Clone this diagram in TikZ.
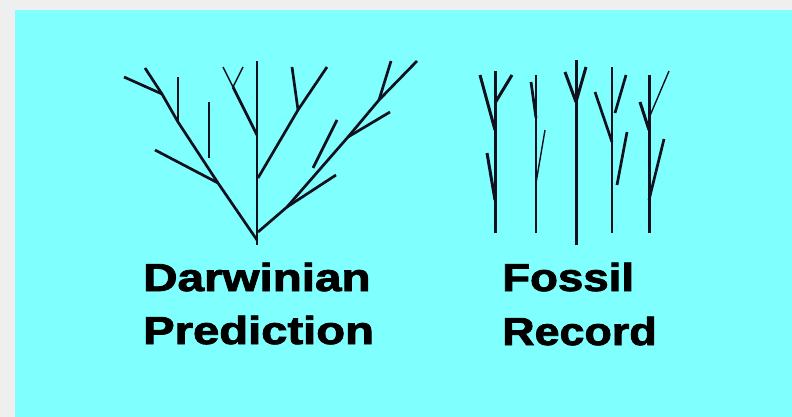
\documentclass[tikz,border=0pt]{standalone}
\usepackage{fontspec}
\setmainfont[BoldFeatures={FakeBold=2}]{Liberation Sans}
\definecolor{sky}{HTML}{80FFFF}
\definecolor{frame}{HTML}{EFEFEF}
\definecolor{twig}{HTML}{10101E}
\newcommand{\wideword}[2]{\scalebox{#1}[1]{#2}}

\begin{document}
\begin{tikzpicture}[
        x=1pt, y=-1pt,
        branch/.style={draw=twig, line width=2.7pt},
        stem/.style={draw=twig, line width=3pt},
        sprig/.style={draw=twig, line width=1.4pt},
        caption/.style={anchor=base west, inner sep=0pt, text=black, font=\fontsize{39}{39}\selectfont\bfseries},
    ]
    % background
    \fill[frame] (0,0) rectangle (792,417);
    \fill[sky] (15,10) rectangle (792,417);
    \useasboundingbox (0,0) rectangle (792,417);

    % Darwinian prediction: one branching tree
    \coordinate (root) at (257,240);
    \draw[branch] (257,245) -- (257,61);
    \coordinate (lowL) at (218,183);
    \coordinate (midL) at (178,122);
    \coordinate (topL) at (162,94);
    \draw[branch] (root) -- (lowL) -- (midL) -- (topL) -- (145,68);
    \draw[branch] (lowL) -- (155,150);
    \draw[branch] (topL) -- (124,77);
    \draw[branch] (midL) -- (178,77);
    \draw[branch] (209,102) -- (209,158);
    \coordinate (forkC) at (257,135);
    \coordinate (vC) at (233,87);
    \draw[branch] (forkC) -- (vC);
    \draw[sprig] (vC) -- (223,67);
    \draw[sprig] (vC) -- (243,67);
    \coordinate (forkR) at (258,178);
    \coordinate (subR) at (298,110);
    \draw[branch] (forkR) -- (subR) -- (327,67);
    \draw[branch] (subR) -- (292,67);
    \coordinate (lowR) at (287,207);
    \coordinate (midR) at (348,137);
    \coordinate (topR) at (379,100);
    \draw[branch] (258,232) -- (lowR) -- (midR) -- (topR) -- (417,61);
    \draw[branch] (lowR) -- (336,175);
    \draw[branch] (313,168) -- (337,120);
    \draw[branch] (midR) -- (390,112);
    \draw[branch] (topR) -- (391,61);

    % Fossil record: separate stems
    \draw[stem] (495,233) -- (495,71);
    \draw[stem] (495,130) -- (480,75);
    \draw[stem] (495,103) -- (512,75);
    \draw[stem] (495,200) -- (487,153);
    \draw[sprig] (536,233) -- (536,75);
    \draw[branch] (536,118) -- (531,82);
    \draw[sprig] (536,183) -- (545,130);
    \draw[stem] (576,245) -- (576,60);
    \draw[stem] (576,102) -- (565,72);
    \draw[stem] (576,102) -- (586,67);
    \draw[sprig] (612,233) -- (612,67);
    \draw[branch] (612,142) -- (595,92);
    \draw[branch] (615,113) -- (626,75);
    \draw[branch] (617,185) -- (627,132);
    \draw[stem] (649,233) -- (649,75);
    \draw[stem] (649,130) -- (640,102);
    \draw[sprig] (649,118) -- (669,71);
    \draw[branch] (649,200) -- (664,139);

    % captions
    \node[caption] (darwin) at (143,291) {\wideword{1.22}{Darwinian}};
    \node[caption] (predict) at (143,344) {\wideword{1.21}{Prediction}};
    \node[caption] (fossil) at (502,291) {\wideword{1.17}{Fossil}};
    \node[caption] (record) at (502,345) {\wideword{1.15}{Record}};
\end{tikzpicture}
\end{document}
